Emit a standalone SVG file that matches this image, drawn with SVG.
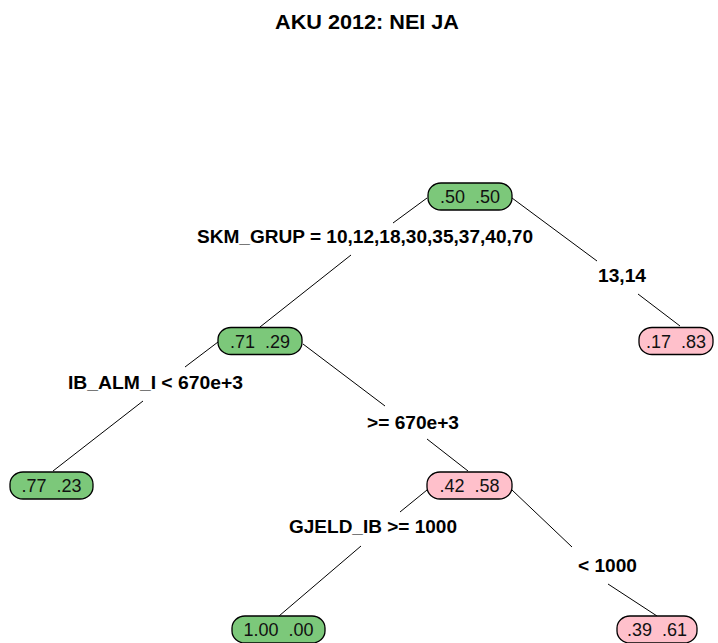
<svg xmlns="http://www.w3.org/2000/svg" width="718" height="643" viewBox="0 0 718 643">
<style>
.box{stroke:#000;stroke-width:1.3}
.g{fill:#7cc87a}
.p{fill:#ffc0cb}
.nt{font-family:"Liberation Sans",Arial,sans-serif;font-size:18px;fill:#111;text-anchor:middle}
.lb{font-family:"Liberation Sans",Arial,sans-serif;font-size:18px;font-weight:bold;fill:#000}
.title{font-family:"Liberation Sans",Arial,sans-serif;font-size:20px;font-weight:bold;fill:#000}
.cn line{stroke:#000;stroke-width:1}
</style>
<rect width="718" height="643" fill="#fff"/>
<text class="title" x="275" y="29" textLength="184" lengthAdjust="spacingAndGlyphs">AKU 2012: NEI JA</text>
<g id="connectors" class="cn">
<line x1="427" y1="198" x2="393" y2="223"/>
<line x1="351" y1="255" x2="260" y2="327"/>
<line x1="512" y1="198" x2="597" y2="261"/>
<line x1="638" y1="294" x2="680" y2="326"/>
<line x1="218" y1="342" x2="185" y2="367"/>
<line x1="143" y1="401" x2="53" y2="471"/>
<line x1="303" y1="344" x2="385" y2="406"/>
<line x1="427" y1="439" x2="468" y2="471"/>
<line x1="427" y1="490" x2="400" y2="512"/>
<line x1="361" y1="546" x2="279" y2="616"/>
<line x1="512" y1="490" x2="572" y2="547"/>
<line x1="608" y1="584" x2="657" y2="616"/>
</g>
<g id="labels">
<text class="lb" x="197" y="243" textLength="336" lengthAdjust="spacingAndGlyphs">SKM_GRUP = 10,12,18,30,35,37,40,70</text>
<text class="lb" x="598" y="282" textLength="48" lengthAdjust="spacingAndGlyphs">13,14</text>
<text class="lb" x="68" y="389" textLength="175" lengthAdjust="spacingAndGlyphs">IB_ALM_I &lt; 670e+3</text>
<text class="lb" x="367" y="429" textLength="92" lengthAdjust="spacingAndGlyphs">&gt;= 670e+3</text>
<text class="lb" x="289" y="533" textLength="168" lengthAdjust="spacingAndGlyphs">GJELD_IB &gt;= 1000</text>
<text class="lb" x="578" y="572" textLength="59" lengthAdjust="spacingAndGlyphs">&lt; 1000</text>
</g>
<g id="n1"><rect class="box g" x="428" y="183" width="84" height="27" rx="13" ry="12"/><text class="nt" x="470" y="203" xml:space="preserve">.50  .50</text></g>
<g id="n2"><rect class="box g" x="218" y="327.5" width="84" height="27" rx="13" ry="12"/><text class="nt" x="260" y="347.5" xml:space="preserve">.71  .29</text></g>
<g id="n3"><rect class="box p" x="639" y="327.5" width="74" height="27" rx="13" ry="12"/><text class="nt" x="676" y="347.5" xml:space="preserve">.17  .83</text></g>
<g id="n4"><rect class="box g" x="10" y="472" width="83" height="27" rx="13" ry="12"/><text class="nt" x="51.5" y="492" xml:space="preserve">.77  .23</text></g>
<g id="n5"><rect class="box p" x="427" y="472" width="85" height="27" rx="13" ry="12"/><text class="nt" x="469.5" y="492" xml:space="preserve">.42  .58</text></g>
<g id="n6"><rect class="box g" x="232" y="616" width="93" height="27" rx="13" ry="12"/><text class="nt" x="278.5" y="636" xml:space="preserve">1.00  .00</text></g>
<g id="n7"><rect class="box p" x="617" y="616" width="80" height="27" rx="13" ry="12"/><text class="nt" x="657" y="636" xml:space="preserve">.39  .61</text></g>
</svg>
